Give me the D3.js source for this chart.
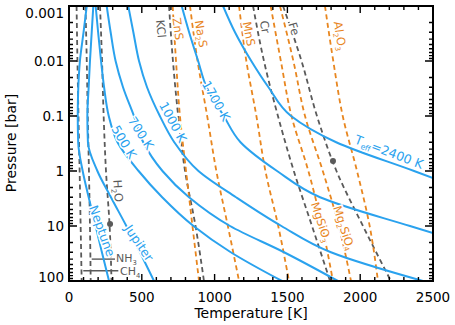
<!DOCTYPE html>
<html>
<head>
<meta charset="utf-8">
<script src="https://cdn.jsdelivr.net/npm/d3@7"></script>
<style>
  body { margin: 0; background: #fff; }
  svg { font-family: "DejaVu Sans", sans-serif; }
</style>
</head>
<body>
<svg width="455" height="325"></svg>
<script>
// model temperature profiles, [T (K), P (bar)]
let neptune = [[122,0.001],[100,0.003],[75,0.01],[64,0.03],[60,0.1],[63,0.3],[94,1],[135,3],[183,10],[226,30],[275,100]]
let jupiter = [[167,0.001],[156,0.003],[144,0.01],[135,0.03],[126,0.1],[130,0.3],[195,1],[288,3],[394,10],[487,30],[584,100]]
let teff500 = [[183,0.001],[200,0.003],[220,0.01],[241,0.03],[273,0.1],[333,0.3],[478,1],[640,3],[855,10],[1111,30],[1463,100]]
let teff700 = [[259,0.001],[286,0.003],[320,0.01],[371,0.03],[446,0.1],[510,0.3],[642,1],[824,3],[1106,10],[1477,30],[1847,100]]
let teff1000 = [[407,0.001],[442,0.003],[481,0.01],[536,0.03],[624,0.1],[723,0.3],[889,1],[1147,3],[1459,10],[1799,30],[2431,100]]
let teff1700 = [[774,0.001],[825,0.003],[887,0.01],[945,0.03],[1063,0.1],[1178,0.3],[1429,1],[1724,3],[2342,10],[2500,13.4]]
let teff2400 = [[1058,0.001],[1140,0.003],[1252,0.01],[1370,0.03],[1525,0.1],[1835,0.3],[2370,1],[2500,1.34]]

// condensation curves: temperature (K) at each pressure of condP
let condP = [0.001, 0.01, 0.1, 1, 10, 100]
let ch4T = [52, 58, 65, 73, 80, 87]
let nh3T = [113, 122, 129, 137, 144, 149]
let h2oT = [213, 227, 238, 254, 279, 292]
let kclT = [687, 714, 750, 797, 869, 927]
let znsT = [712, 735, 762, 804, 848, 893]
let na2sT = [831, 883, 949, 1012, 1091, 1168]
let mnsT = [1168, 1218, 1287, 1349, 1437, 1511]
let crT = [1264, 1339, 1435, 1544, 1669, 1793]
let feT = [1470, 1597, 1703, 1837, 2019, 2211]
let mgsio3T = [1385, 1455, 1528, 1644, 1738, 1813]
let mg2sio4T = [1449, 1541, 1621, 1743, 1853, 1937]
let al2o3T = [1758, 1815, 1880, 1978, 2065, 2122]

// cloud base markers and NH3 / CH4 levels
let dots = [[282, 9.2], [1813, 0.66]]
let nh3Level = [[156, 40], [316, 40]]
let ch4Level = [[98, 65], [339, 65]]

let xTicks = [0, 500, 1000, 1500, 2000, 2500]
let xTickLabels = ['0', '500', '1000', '1500', '2000', '2500']
let yTicks = [0.001, 0.01, 0.1, 1, 10, 100]
let yTickLabels = ['0.001', '0.01', '0.1', '1', '10', '100']

let blue = '#2aa2ee', orange = '#e8861f', gray = '#5a5a5a'

let svg = d3.select('svg')
let x = d3.scaleLinear().domain([0, 2500]).range([69, 433])
let y = d3.scaleLog().domain([0.001, 100]).range([6, 281])

svg.append('defs').append('clipPath').attr('id', 'clip')
  .append('rect').attr('x', 69).attr('y', 6).attr('width', 364).attr('height', 275)

let plot = svg.append('g').attr('clip-path', 'url(#clip)')

// condensation curves
let condLine = d3.line()
  .x(d => x(d))
  .y((d, i) => y(condP[i]))
  .curve(d3.curveMonotoneY)

let condensates = [
  [ch4T, gray], [nh3T, gray], [h2oT, gray], [kclT, gray], [znsT, orange],
  [na2sT, orange], [mnsT, orange], [crT, gray], [feT, gray],
  [mgsio3T, orange], [mg2sio4T, orange], [al2o3T, orange]
]
plot.selectAll('.cond')
  .data(condensates)
  .enter()
  .append('path')
  .attr('class', 'cond')
  .attr('d', d => condLine(d[0]))
  .attr('fill', 'none')
  .attr('stroke', d => d[1])
  .attr('stroke-width', 1.8)
  .attr('stroke-dasharray', '5,3.5')

// NH3 / CH4 levels
let pairLine = d3.line().x(d => x(d[0])).y(d => y(d[1]))
plot.selectAll('.level')
  .data([nh3Level, ch4Level])
  .enter()
  .append('path')
  .attr('d', pairLine)
  .attr('stroke', gray)
  .attr('stroke-width', 1.4)

// temperature profiles
let profLine = d3.line()
  .x(d => x(d[0]))
  .y(d => y(d[1]))
  .curve(d3.curveMonotoneY)

plot.selectAll('.prof')
  .data([neptune, jupiter, teff500, teff700, teff1000, teff1700, teff2400])
  .enter()
  .append('path')
  .attr('class', 'prof')
  .attr('d', profLine)
  .attr('fill', 'none')
  .attr('stroke', blue)
  .attr('stroke-width', 2)

plot.selectAll('circle')
  .data(dots)
  .enter()
  .append('circle')
  .attr('cx', d => x(d[0]))
  .attr('cy', d => y(d[1]))
  .attr('r', 3)
  .attr('fill', gray)

// text with subscripts: parts are strings, or [string] for a subscript
function label(parts, t, p, angle, size, color, anchor) {
  let txt = svg.append('text')
    .attr('transform', `translate(${x(t)},${y(p)}) rotate(${angle})`)
    .attr('text-anchor', anchor || 'middle')
    .attr('dy', '0.35em')
    .attr('font-size', size)
    .attr('fill', color)
    .attr('stroke', '#fff')
    .attr('stroke-width', 3)
    .attr('paint-order', 'stroke')
  let shifted = false
  parts.forEach(part => {
    let ts = txt.append('tspan')
    if (typeof part === 'string') {
      ts.text(part)
      if (shifted) ts.attr('dy', -size * 0.22)
      shifted = false
    } else {
      ts.text(part[0]).attr('font-size', size * 0.62).attr('dy', size * 0.22)
      shifted = true
    }
  })
}

label(['KCl'], 632, 0.0026, 84, 11.5, gray)
label(['ZnS'], 749, 0.0026, 82, 11.5, orange)
label(['Na', ['2'], 'S'], 907, 0.0032, 80, 11.5, orange)
label(['MnS'], 1236, 0.0032, 79, 11.5, orange)
label(['Cr'], 1346, 0.0024, 79, 11.5, gray)
label(['Fe'], 1545, 0.0026, 73, 11.5, gray)
label(['Al', ['2'], 'O', ['3']], 1861, 0.0035, 81, 11.5, orange)
label(['H', ['2'], 'O'], 337, 2.3, 86, 11.5, gray)
label(['MgSiO', ['3']], 1731, 8.5, 72, 11.5, orange)
label(['Mg', ['2'], 'SiO', ['4']], 1889, 10.9, 72, 11.5, orange)
label(['NH', ['3']], 323, 39, 0, 11, gray, 'start')
label(['CH', ['4']], 350, 67, 0, 11, gray, 'start')

label(['T', ['eff'], '=2400 K'], 2198, 0.45, 21, 12.5, blue)
label(['1700 K'], 1010, 0.053, 61, 12.5, blue)
label(['1000 K'], 714, 0.129, 62, 12.5, blue)
label(['700 K'], 494, 0.204, 57, 12.5, blue)
label(['500 K'], 378, 0.297, 59, 12.5, blue)
label(['Neptune'], 227, 12.3, 70, 12.5, blue)
label(['Jupiter'], 481, 20.4, 56, 12.5, blue)

// axes frame and ticks
let axes = svg.append('g').attr('stroke', '#000')
let xMinor = d3.range(0, 2501, 100)
let yMinor = []
yTicks.slice(0, -1).forEach(d => d3.range(2, 10).forEach(k => yMinor.push(d * k)))

axes.selectAll('.xt')
  .data(xMinor)
  .enter()
  .append('path')
  .attr('d', d => {
    let len = d % 500 === 0 ? 7 : 4
    return `M${x(d)},281v${-len}M${x(d)},6v${len}`
  })
  .attr('stroke-width', 1.4)

axes.selectAll('.yt')
  .data(yTicks.concat(yMinor))
  .enter()
  .append('path')
  .attr('d', d => {
    let len = yTicks.includes(d) ? 8 : 4
    return `M69,${y(d)}h${len}M433,${y(d)}h${-len}`
  })
  .attr('stroke-width', 1.4)

axes.append('rect')
  .attr('x', 69).attr('y', 6).attr('width', 364).attr('height', 275)
  .attr('fill', 'none').attr('stroke-width', 2)

svg.selectAll('.xl')
  .data(xTicks)
  .enter()
  .append('text')
  .attr('x', d => x(d))
  .attr('y', 302)
  .attr('text-anchor', 'middle')
  .attr('font-size', 13.5)
  .text((d, i) => xTickLabels[i])

svg.selectAll('.yl')
  .data(yTicks)
  .enter()
  .append('text')
  .attr('x', 64)
  .attr('y', d => Math.min(Math.max(y(d), 13), 277))
  .attr('dy', '0.36em')
  .attr('text-anchor', 'end')
  .attr('font-size', 13.5)
  .text((d, i) => yTickLabels[i])

svg.append('text')
  .attr('x', 251).attr('y', 318)
  .attr('text-anchor', 'middle')
  .attr('font-size', 14)
  .text('Temperature [K]')

svg.append('text')
  .attr('transform', 'translate(16,143) rotate(-90)')
  .attr('text-anchor', 'middle')
  .attr('font-size', 14)
  .text('Pressure [bar]')
</script>
</body>
</html>
